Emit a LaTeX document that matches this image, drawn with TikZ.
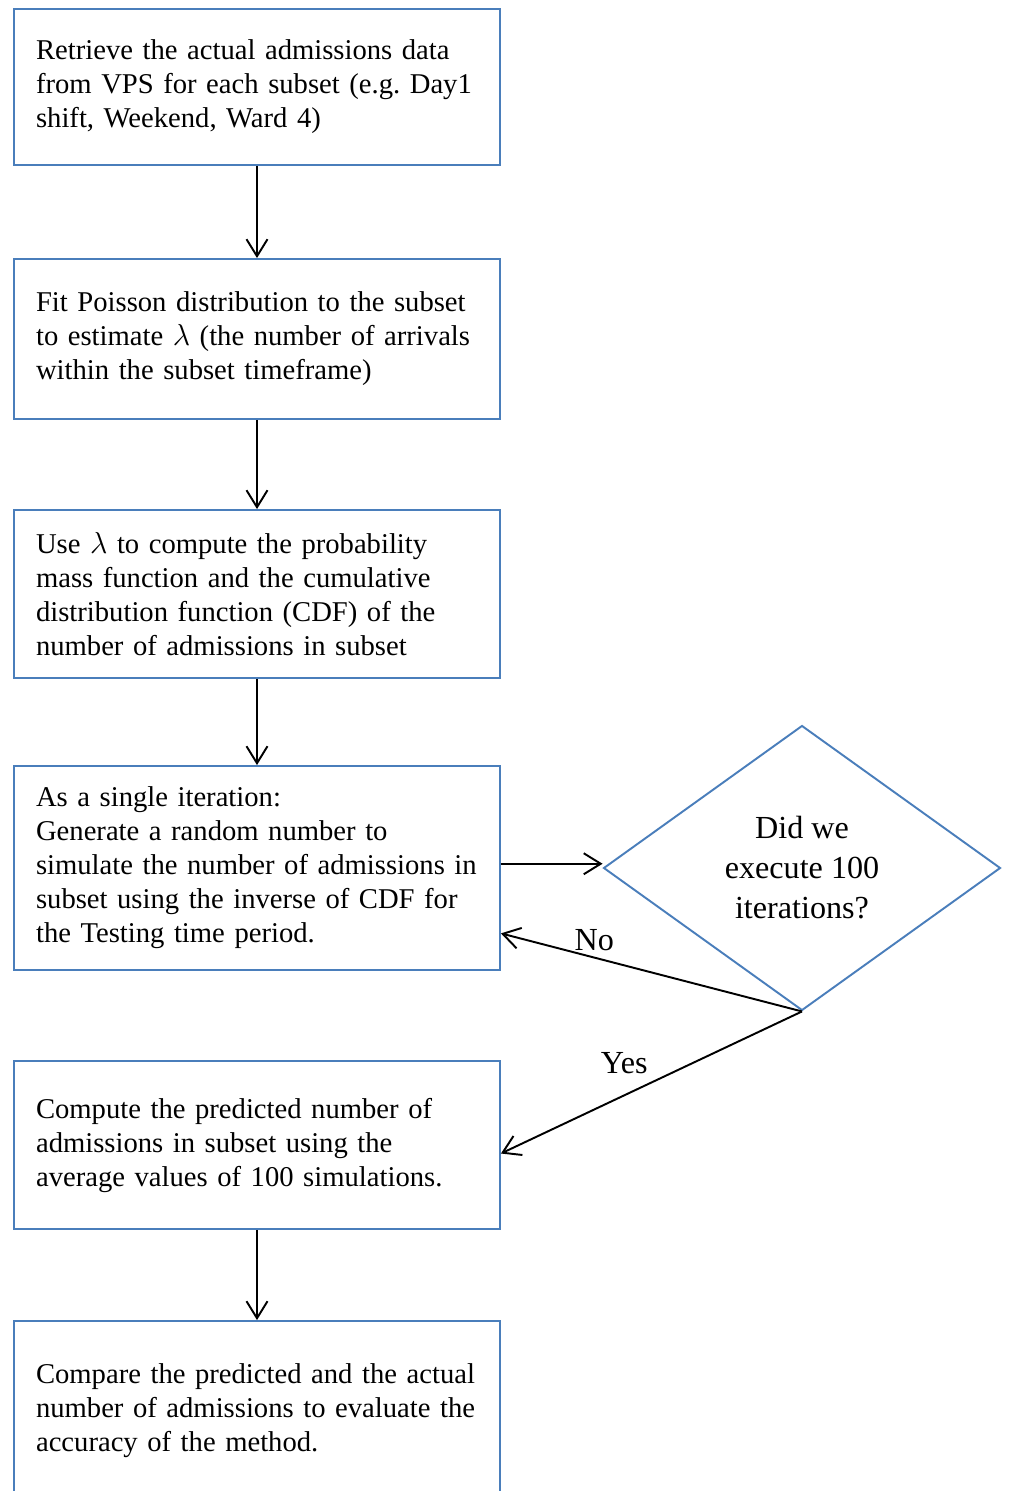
\documentclass[tikz,border=0pt]{standalone}
\usepackage{fontspec}
\setmainfont{Liberation Serif}
\frenchspacing
\usetikzlibrary{shapes.geometric,arrows.meta}
\definecolor{boxblue}{HTML}{4A7EBB}
\begin{document}
\begin{tikzpicture}[x=0.02cm,y=-0.02cm,
    stepbox/.style={draw=boxblue,line width=1.1pt,rectangle,minimum width=9.72cm,
      text width=8.84cm,inner xsep=0.44cm,align=left,
      font=\fontsize{16.3}{19.35}\selectfont},
    flow/.style={draw,line width=1.1pt,-{Straight Barb[length=0.34cm,width=0.42cm]}},
    tag/.style={font=\fontsize{18.3}{22.8}\selectfont}]
            \useasboundingbox (0,0) rectangle (1011,1491);
            \node[stepbox,minimum height=3.12cm] (A) at (257,87) {Retrieve the actual admissions data\\from VPS for each subset (e.g. Day1\\shift, Weekend, Ward 4)};
            \node[stepbox,minimum height=3.2cm] (B) at (257,339) {Fit Poisson distribution to the subset\\to estimate $\lambda$ (the number of arrivals\\within the subset timeframe)};
            \node[stepbox,minimum height=3.36cm] (C) at (257,594) {Use $\lambda$ to compute the probability\\mass function and the cumulative\\distribution function (CDF) of the\\number of admissions in subset};
            \node[stepbox,minimum height=4.08cm] (D) at (257,868) {As a single iteration:\\Generate a random number to\\simulate the number of admissions in\\subset using the inverse of CDF for\\the Testing time period.};
            \node[stepbox,minimum height=3.36cm] (E) at (257,1145) {Compute the predicted number of\\admissions in subset using the\\average values of 100 simulations.};
            \node[stepbox,minimum height=3.6cm] (F) at (257,1411) {Compare the predicted and the actual\\number of admissions to evaluate the\\accuracy of the method.};
            
            \node[tag,diamond,draw=boxblue,line width=1.1pt,minimum width=7.94cm,minimum height=5.7cm,
              align=center] (Q) at (802,868) {Did we\\execute 100\\iterations?};
            
            \draw[flow] (A) -- (B);
            \draw[flow] (B) -- (C);
            \draw[flow] (C) -- (D);
            \draw[flow] (D.1.2) -- (D.1.2 -| Q.west);
            \draw[flow] (Q.south) -- node[tag,pos=0.69,above]{No}(D.-15.4);
            \draw[flow] (Q.south) -- node[tag,pos=0.49,above left]{Yes}(E.-2);
            \draw[flow] (E) -- (F);
          \end{tikzpicture}
\end{document}
